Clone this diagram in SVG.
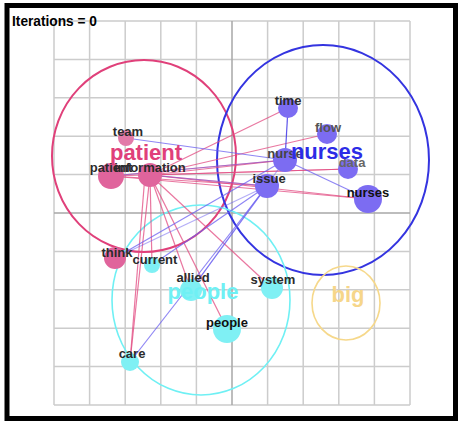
<svg xmlns="http://www.w3.org/2000/svg" width="460" height="422" viewBox="0 0 460 422">
<style>
.grid{stroke:#cccccc;stroke-width:1.5;fill:none}
.axis{stroke:#a8a8a8;stroke-width:1.5;fill:none}
.lbl{font-family:"Liberation Sans",Arial,sans-serif;font-weight:bold;font-size:13px;fill:#2b2b2b;text-anchor:middle}
.big{font-family:"Liberation Sans",Arial,sans-serif;font-weight:bold;font-size:22px;text-anchor:middle}
.ep{stroke:#e24a80;stroke-width:1.2;opacity:0.75;fill:none}
.eb{stroke:#6a5ef0;stroke-width:1.2;opacity:0.75;fill:none}
.np{fill:#e0649c}
.nb{fill:#7c6cf2}
.nc{fill:#7ff0f4}
</style>
<rect x="0" y="0" width="460" height="422" fill="#ffffff"/>
<g id="grid">
<path class="grid" d="M54 21V405M89.6 21V405M125.2 21V405M160.8 21V405M196.4 21V405M267.6 21V405M303.2 21V405M338.8 21V405M374.4 21V405M410 21V405M54 21H410M54 59.4H410M54 97.8H410M54 136.2H410M54 174.6H410M54 251.4H410M54 289.8H410M54 328.2H410M54 366.6H410M54 405H410"/>
<path class="axis" d="M232 21V405M54 213H410"/>
</g>
<g id="clusters">
<ellipse id="cluster-patient" cx="144" cy="156" rx="92" ry="96" fill="none" stroke="#e0407a" stroke-width="2"/>
<ellipse id="cluster-nurses" cx="323" cy="160" rx="106" ry="115" fill="none" stroke="#3434e0" stroke-width="2"/>
<ellipse id="cluster-people" cx="201" cy="300" rx="89" ry="95" fill="none" stroke="#6ff0f4" stroke-width="1.6"/>
<ellipse id="cluster-big" cx="346" cy="303" rx="34" ry="37" fill="none" stroke="#f6d88a" stroke-width="1.6"/>
</g>
<g id="connectors">
<line class="ep" x1="150" y1="175" x2="288" y2="108"/>
<line class="ep" x1="150" y1="175" x2="327" y2="134"/>
<line class="ep" x1="150" y1="175" x2="285" y2="160"/>
<line class="ep" x1="150" y1="175" x2="348" y2="169"/>
<line class="ep" x1="150" y1="175" x2="267" y2="186"/>
<line class="ep" x1="150" y1="175" x2="368" y2="199"/>
<line class="ep" x1="111" y1="176" x2="285" y2="160"/>
<line class="ep" x1="111" y1="176" x2="348" y2="169"/>
<line class="ep" x1="111" y1="176" x2="267" y2="186"/>
<line class="ep" x1="111" y1="176" x2="368" y2="199"/>
<line class="ep" x1="150" y1="175" x2="130" y2="362"/>
<line class="ep" x1="145" y1="175" x2="130" y2="362"/>
<line class="ep" x1="150" y1="175" x2="152" y2="265"/>
<line class="ep" x1="150" y1="175" x2="191" y2="290"/>
<line class="ep" x1="150" y1="175" x2="227" y2="329"/>
<line class="ep" x1="150" y1="175" x2="272" y2="288"/>
<line class="eb" x1="288" y1="108" x2="285" y2="160" style="stroke:#4a40e8;opacity:0.9"/>
<line class="eb" x1="285" y1="160" x2="368" y2="199"/>
<line class="eb" x1="126" y1="138" x2="285" y2="160"/>
<line class="eb" x1="111" y1="176" x2="285" y2="160" style="opacity:0.5"/>
<line class="eb" x1="150" y1="175" x2="267" y2="186" style="opacity:0.5"/>
<line class="eb" x1="115" y1="258" x2="285" y2="160"/>
<line class="eb" x1="115" y1="258" x2="267" y2="186" style="opacity:0.5"/>
<line class="eb" x1="152" y1="265" x2="267" y2="186"/>
<line class="eb" x1="191" y1="290" x2="267" y2="186"/>
<line class="eb" x1="191" y1="290" x2="285" y2="160" style="opacity:0.5"/>
<line class="eb" x1="130" y1="362" x2="267" y2="186"/>
</g>
<g id="node-team"><circle class="np" cx="126" cy="138" r="8" style="fill:#e27aa8"/><text class="lbl" x="128" y="136">team</text></g>
<g id="node-patient"><circle class="np" cx="111" cy="176" r="13"/><text class="lbl" x="111" y="172">patient</text></g>
<g id="node-information"><circle class="np" cx="150" cy="175" r="12"/><text class="lbl" x="150" y="172">information</text></g>
<g id="node-think"><circle class="np" cx="115" cy="258" r="11"/><text class="lbl" x="117" y="257">think</text></g>
<g id="node-current"><circle class="nc" cx="152" cy="265" r="8"/><text class="lbl" x="155" y="264">current</text></g>
<g id="node-allied"><circle class="nc" cx="191" cy="290" r="11"/><text class="lbl" x="193" y="282">allied</text></g>
<g id="node-people"><circle class="nc" cx="227" cy="329" r="14"/><text class="lbl" x="227" y="327" style="fill:#111">people</text></g>
<g id="node-system"><circle class="nc" cx="272" cy="288" r="11"/><text class="lbl" x="273" y="284">system</text></g>
<g id="node-care"><circle class="nc" cx="130" cy="362" r="9"/><text class="lbl" x="132" y="358">care</text></g>
<g id="node-time"><circle class="nb" cx="288" cy="108" r="10"/><text class="lbl" x="288" y="105">time</text></g>
<g id="node-flow"><circle class="nb" cx="327" cy="134" r="10"/><text class="lbl" x="328" y="132" style="fill:#555">flow</text></g>
<g id="node-nurse"><circle class="nb" cx="285" cy="160" r="12"/><text class="lbl" x="285" y="158" style="fill:#444">nurse</text></g>
<g id="node-data"><circle class="nb" cx="348" cy="169" r="10"/><text class="lbl" x="352" y="167" style="fill:#666">data</text></g>
<g id="node-issue"><circle class="nb" cx="267" cy="186" r="12"/><text class="lbl" x="269" y="183">issue</text></g>
<g id="node-nurses"><circle class="nb" cx="368" cy="199" r="14"/><text class="lbl" x="368" y="197" style="fill:#111">nurses</text></g>
<g id="cluster-labels">
<text class="big" x="146" y="160" fill="#e0407a">patient</text>
<text class="big" x="327" y="159" fill="#2c2ce6">nurses</text>
<text class="big" x="203" y="299" fill="#6ff0f4">people</text>
<text class="big" x="348" y="302" fill="#f6d68a">big</text>
</g>
<text x="12" y="26" font-family="'Liberation Sans',Arial,sans-serif" font-weight="bold" font-size="15" fill="#000" textLength="85" lengthAdjust="spacingAndGlyphs">Iterations = 0</text>
<rect id="frame" x="7" y="5.5" width="448.5" height="413" fill="none" stroke="#000" stroke-width="5"/>
</svg>
